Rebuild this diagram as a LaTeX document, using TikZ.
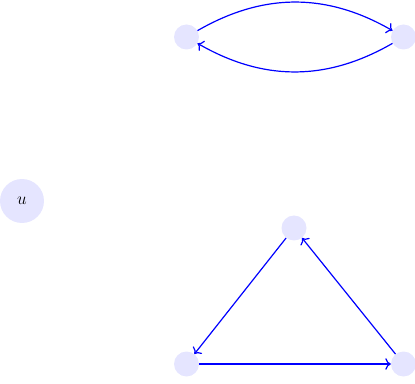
\documentclass[tikz,border=0pt]{standalone}
\usepackage{tikz}
\usetikzlibrary{arrows.meta}

\begin{document}
\begin{tikzpicture}[
    x=1pt,y=1pt,
    vertex/.style={circle,fill=blue!10,minimum size=25pt,inner sep=0pt},
    bigvertex/.style={vertex,minimum size=44pt,font=\LARGE},
    arrow/.style={-{To[scale=1.3]},draw=blue,line width=1.2pt}
]
\useasboundingbox (0,0) rectangle (415,383);
\node[bigvertex] (u) at (22,182) {$u$};
% two-cycle
\node[vertex] (p) at (186.5,346) {};
\node[vertex] (q) at (403.5,346) {};
% three-cycle
\node[vertex] (top) at (294,155) {};
\node[vertex] (left) at (186.5,19) {};
\node[vertex] (right) at (403.5,19) {};
\draw[arrow] (p) to[bend left=30] (q);
\draw[arrow] (q) to[bend left=30] (p);
\draw[arrow] (top) -- (left);
\draw[arrow] (left) -- (right);
\draw[arrow] (right) -- (top);
\end{tikzpicture}
\end{document}
